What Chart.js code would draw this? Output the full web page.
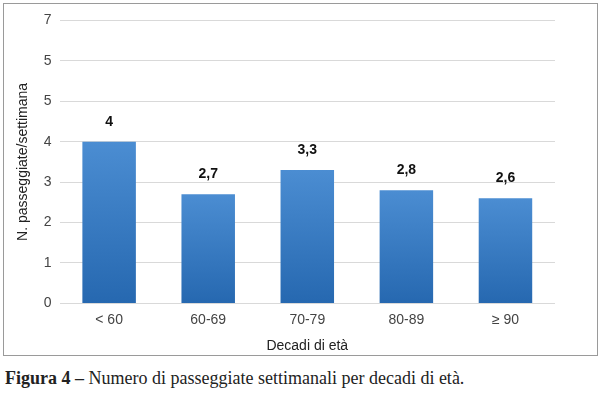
<!DOCTYPE html>
<html>
<head>
<meta charset="utf-8">
<script src="https://cdn.jsdelivr.net/npm/chart.js@4.4.1/dist/chart.umd.min.js"></script>
<style>
  body { margin: 0; background: #fff; width: 600px; height: 393px; position: relative; }
  #frame { position: absolute; left: 3px; top: 3px; width: 593px; height: 351px; border: 1px solid #9a9a9a; }
  #caption { position: absolute; left: 5px; top: 368px; font-family: "Liberation Serif", serif; font-size: 18px; color: #222; white-space: nowrap; }
</style>
</head>
<body>
<div id="frame"><canvas id="myChart" width="593" height="351"></canvas></div>
<div id="caption"><b>Figura 4 –</b> Numero di passeggiate settimanali per decadi di età.</div>
<script>
const categorie = ["< 60", "60-69", "70-79", "80-89", "≥ 90"];
const valori = [4, 2.7, 3.3, 2.8, 2.6];
const etichetteValori = ["4", "2,7", "3,3", "2,8", "2,6"];
// etichette asse Y come nell'originale (il 6 compare come 5)
const tickY = ["0", "1", "2", "3", "4", "5", "5", "7"];

const fontNarrow = "'Liberation Sans', Arial, sans-serif";

function gradiente(ctx) {
  const chart = ctx.chart;
  if (!chart.chartArea || ctx.raw === undefined) return "#3a7cc4";
  const y = chart.scales.y.getPixelForValue(ctx.raw);
  const base = chart.scales.y.getPixelForValue(0);
  const g = chart.ctx.createLinearGradient(0, y, 0, base);
  g.addColorStop(0, "#4b8dd2");
  g.addColorStop(1, "#2668b0");
  return g;
}

const etichettePlugin = {
  id: "etichette",
  afterDatasetsDraw(chart) {
    const ctx = chart.ctx;
    const meta = chart.getDatasetMeta(0);
    ctx.save();
    ctx.font = "bold 14px " + fontNarrow;
    ctx.fillStyle = "#111";
    ctx.textAlign = "center";
    ctx.textBaseline = "bottom";
    meta.data.forEach((bar, i) => {
      ctx.fillText(etichetteValori[i], bar.x, bar.y - 13);
    });
    ctx.restore();
  }
};

const config = {
  type: "bar",
  data: {
    labels: categorie,
    datasets: [{
      data: valori,
      backgroundColor: gradiente,
      borderWidth: 0,
      categoryPercentage: 1,
      barPercentage: 0.54
    }]
  },
  options: {
    responsive: false,
    animation: false,
    layout: { padding: { top: 10, right: 42, left: 7, bottom: 0 } },
    plugins: { legend: { display: false }, tooltip: { enabled: false } },
    scales: {
      x: {
        grid: { display: false, drawTicks: false },
        border: { display: false },
        ticks: { color: "#444", font: { size: 14, family: fontNarrow }, padding: 8 },
        title: { display: true, text: "Decadi di età", color: "#222", font: { size: 14, family: fontNarrow }, padding: { top: 2, bottom: 0 } }
      },
      y: {
        min: 0, max: 7,
        grid: { color: "#d9d9d9", drawTicks: false },
        border: { display: false },
        ticks: {
          stepSize: 1,
          color: "#444",
          font: { size: 14, family: fontNarrow },
          padding: 8,
          callback: (v) => tickY[v]
        },
        title: { display: true, text: "N. passeggiate/settimana", color: "#222", font: { size: 14, family: fontNarrow }, padding: { bottom: 4 } }
      }
    }
  },
  plugins: [etichettePlugin]
};

new Chart(document.getElementById("myChart"), config);
</script>
</body>
</html>
